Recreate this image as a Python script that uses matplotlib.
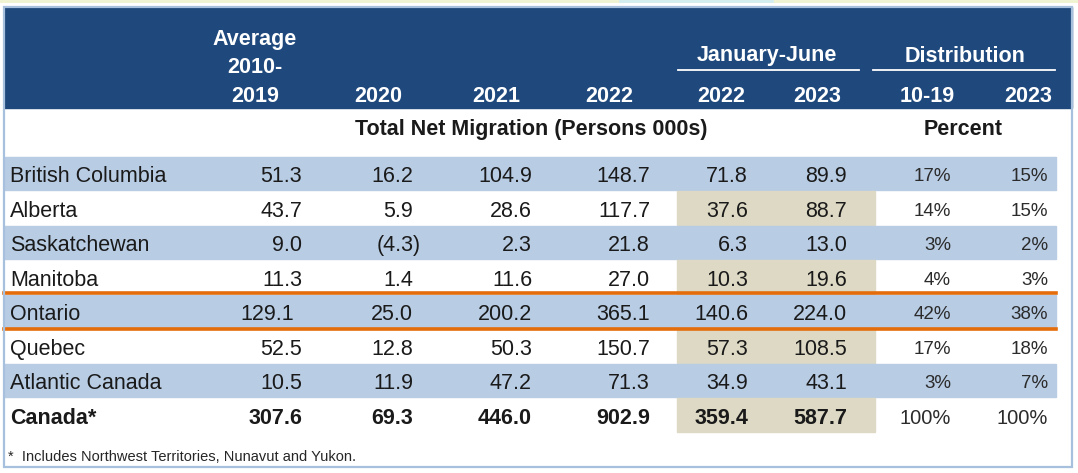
import matplotlib.pyplot as plt
from matplotlib.patches import Rectangle

plt.rcParams['font.family'] = ['Liberation Sans', 'DejaVu Sans']

regions = ['British Columbia', 'Alberta', 'Saskatchewan', 'Manitoba',
           'Ontario', 'Quebec', 'Atlantic Canada', 'Canada*']
avg_2010_19 = [51.3, 43.7, 9.0, 11.3, 129.1, 52.5, 10.5, 307.6]
y2020 = [16.2, 5.9, -4.3, 1.4, 25.0, 12.8, 11.9, 69.3]
y2021 = [104.9, 28.6, 2.3, 11.6, 200.2, 50.3, 47.2, 446.0]
y2022 = [148.7, 117.7, 21.8, 27.0, 365.1, 150.7, 71.3, 902.9]
jan_jun_2022 = [71.8, 37.6, 6.3, 10.3, 140.6, 57.3, 34.9, 359.4]
jan_jun_2023 = [89.9, 88.7, 13.0, 19.6, 224.0, 108.5, 43.1, 587.7]
dist_10_19 = [17, 14, 3, 4, 42, 17, 3, 100]
dist_2023 = [15, 15, 2, 3, 38, 18, 7, 100]

col_headers = ['Average\n2010-\n2019', '2020', '2021', '2022', '2022', '2023', '10-19', '2023']

HEAD_BLUE = '#1F497D'
BAND_BLUE = '#B8CCE4'
TAN = '#DDD9C4'
ORANGE = '#E46C0A'
TXT = '#1a1a1a'

fig = plt.figure(figsize=(10.78, 4.73), dpi=100)
ax = fig.add_axes([0, 0, 1, 1])
ax.set_xlim(0, 1078)
ax.set_ylim(473, 0)
ax.axis('off')

# top strip
ax.plot([0, 1078], [1, 1], color='#EFF3CF', lw=2)
ax.plot([620, 772], [1, 1], color='#D2EEF1', lw=2)

# header
ax.add_patch(Rectangle((4, 7), 1068, 101, color=HEAD_BLUE, zorder=1))

num_cols = [avg_2010_19, y2020, y2021, y2022, jan_jun_2022, jan_jun_2023]
num_right = [302, 413, 532, 650, 748, 847]
pct_cols = [dist_10_19, dist_2023]
pct_right = [951, 1048]
head_x = [255, 378, 496, 609, 721, 817, 927, 1028]

for i, h in enumerate(col_headers):
    if '\n' in h:
        for j, part in enumerate(h.split('\n')):
            ax.text(head_x[i], 39 + j * 28.5, part, ha='center', va='center',
                    color='white', fontsize=15.5, fontweight='bold', zorder=3)
    else:
        ax.text(head_x[i], 96, h, ha='center', va='center',
                color='white', fontsize=15.5, fontweight='bold', zorder=3)

ax.text(767, 56, 'January-June', ha='center', va='center', color='white',
        fontsize=15.5, fontweight='bold', zorder=3)
ax.plot([678, 859], [70.5, 70.5], color='white', lw=1.3, zorder=3)
ax.text(965, 56, 'Distribution', ha='center', va='center', color='white',
        fontsize=15.5, fontweight='bold', zorder=3)
ax.plot([873, 1055], [70.5, 70.5], color='white', lw=1.3, zorder=3)

ax.text(531, 129, 'Total Net Migration (Persons 000s)', ha='center', va='center',
        color=TXT, fontsize=15.5, fontweight='bold')
ax.text(963, 129, 'Percent', ha='center', va='center',
        color=TXT, fontsize=15.5, fontweight='bold')

# data rows
top0 = 156
rh = 34.5
for r, name in enumerate(regions):
    top = top0 + r * rh
    yc = top + rh / 2 + 3.5
    bold = name == 'Canada*'
    if r % 2 == 0:
        ax.add_patch(Rectangle((4, top + 0.5), 1052, rh - 1, color=BAND_BLUE, zorder=1))
    else:
        ax.add_patch(Rectangle((677, top), 198, rh, color=TAN, zorder=1))
    ax.text(10, yc, name, ha='left', va='center', color=TXT, fontsize=15.5,
            fontweight='bold' if bold else 'normal', zorder=3)
    for c, vals in enumerate(num_cols):
        v = vals[r]
        if v < 0:
            s, x = '(%.1f)' % abs(v), num_right[c] + 8
        else:
            s, x = '%.1f' % v, num_right[c]
        if name == 'Ontario' and c == 0:
            x -= 8
        ax.text(x, yc, s, ha='right', va='center', color=TXT, fontsize=15.5,
                fontweight='bold' if bold else 'normal', zorder=3)
    for c, vals in enumerate(pct_cols):
        ax.text(pct_right[c], yc, '%d%%' % vals[r], ha='right', va='center',
                color='#2b2b2b', fontsize=13.5 if not bold else 14.5, zorder=3)

# Ontario highlight lines
ont = regions.index('Ontario')
for yy in (top0 + ont * rh - 1, top0 + (ont + 1) * rh):
    ax.plot([4, 1056], [yy, yy], color=ORANGE, lw=2.6, zorder=2)

ax.text(8, 457, '*  Includes Northwest Territories, Nunavut and Yukon.', ha='left',
        va='center', color='#262626', fontsize=10.5)

# outer border
ax.add_patch(Rectangle((4, 7), 1068, 460, fill=False, edgecolor='#A7C0DE', lw=1.6, zorder=4))

fig.savefig('out.png', dpi=100)
